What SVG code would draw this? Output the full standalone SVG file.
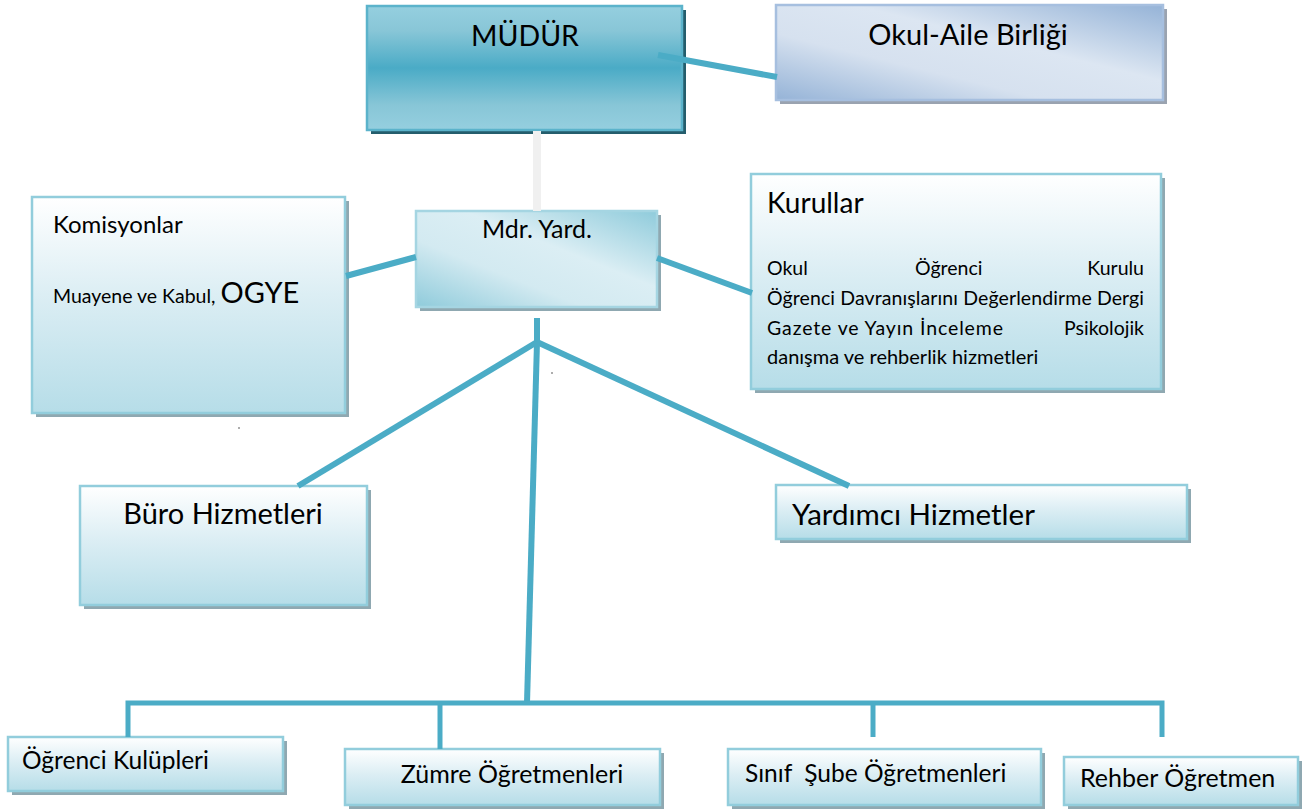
<svg xmlns="http://www.w3.org/2000/svg" width="1304" height="812" viewBox="0 0 1304 812">
<defs>
  <linearGradient id="gPale" x1="0" y1="0" x2="0" y2="1">
    <stop offset="0" stop-color="#ffffff"/>
    <stop offset="0.45" stop-color="#dceef4"/>
    <stop offset="1" stop-color="#b6dde8"/>
  </linearGradient>
  <linearGradient id="gMudur" x1="0" y1="0" x2="0" y2="1">
    <stop offset="0" stop-color="#95cfdf"/>
    <stop offset="0.2" stop-color="#88c6d7"/>
    <stop offset="0.5" stop-color="#4aabc6"/>
    <stop offset="0.8" stop-color="#88c6d7"/>
    <stop offset="1" stop-color="#95cfdf"/>
  </linearGradient>
  <linearGradient id="gYard" x1="0" y1="1" x2="1" y2="0">
    <stop offset="0" stop-color="#8fcbdb"/>
    <stop offset="0.35" stop-color="#d3eaf1"/>
    <stop offset="0.6" stop-color="#dbeef4"/>
    <stop offset="1" stop-color="#8fcbdb"/>
  </linearGradient>
  <linearGradient id="gAile" x1="0" y1="1" x2="1" y2="0">
    <stop offset="0" stop-color="#95b3d7"/>
    <stop offset="0.35" stop-color="#d6e1ef"/>
    <stop offset="0.6" stop-color="#dce6f2"/>
    <stop offset="1" stop-color="#95b3d7"/>
  </linearGradient>
</defs>
<style>
  .shadow { fill: #8fa8b1; }
  .shadowDark { fill: #245d6c; }
  .shadowBlue { fill: #9aa3b0; }
  .box { fill: url(#gPale); stroke: #92cddc; stroke-width: 2.5; }
  .mudur { fill: url(#gMudur); stroke: #5bb3cb; stroke-width: 2.5; }
  .yard { fill: url(#gYard); stroke: #a5d5e2; stroke-width: 2.5; }
  .aile { fill: url(#gAile); stroke: #a6bfdf; stroke-width: 2.5; }
  text { font-family: Lato, "Liberation Sans", sans-serif; fill: #000; }
  .conn { stroke: #4bacc6; stroke-width: 6; fill: none; stroke-linecap: butt; }
  .thin { stroke: #4bacc6; stroke-width: 5; fill: none; }
</style>

<g id="node-mudur">
  <rect class="shadowDark" x="371" y="10" width="315" height="124"/>
  <rect class="mudur" x="367" y="6" width="315" height="124"/>
  <text x="525" y="46" font-size="28.5" text-anchor="middle">MÜDÜR</text>
</g>

<g id="node-okul-aile">
  <rect class="shadowBlue" x="780" y="9" width="387" height="95"/>
  <rect class="aile" x="776" y="5" width="387" height="95"/>
  <text x="968" y="45" font-size="29" text-anchor="middle">Okul-Aile Birliği</text>
</g>

<g id="node-mdr-yard">
  <rect class="shadow" x="420" y="215" width="241" height="96"/>
  <rect class="yard" x="416" y="211" width="241" height="96"/>
  <text x="537" y="238" font-size="25" text-anchor="middle">Mdr. Yard.</text>
</g>

<g id="node-komisyonlar">
  <rect class="shadow" x="36" y="201" width="313" height="216"/>
  <rect class="box" x="32" y="197" width="313" height="216"/>
  <text x="53" y="233" font-size="24">Komisyonlar</text>
  <text x="53" y="303" font-size="19.5">Muayene ve Kabul, <tspan font-size="29">OGYE</tspan></text>
</g>

<g id="node-kurullar">
  <rect class="shadow" x="755" y="178" width="410" height="215"/>
  <rect class="box" x="751" y="174" width="410" height="215"/>
  <text x="767" y="213" font-size="28">Kurullar</text>
  <text x="767" y="275" font-size="19.5">Okul</text>
  <text x="915" y="275" font-size="19.5">Öğrenci</text>
  <text x="1144" y="275" font-size="19.5" text-anchor="end">Kurulu</text>
  <text x="767" y="305" font-size="19.5" textLength="377" lengthAdjust="spacing">Öğrenci Davranışlarını Değerlendirme  Dergi</text>
  <text x="767" y="335" font-size="19.5" textLength="236" lengthAdjust="spacing">Gazete ve Yayın İnceleme</text>
  <text x="1144" y="335" font-size="19.5" text-anchor="end">Psikolojik</text>
  <text x="767" y="364" font-size="20">danışma ve rehberlik hizmetleri</text>
</g>

<g id="node-buro">
  <rect class="shadow" x="84" y="490" width="287" height="119"/>
  <rect class="box" x="80" y="486" width="287" height="119"/>
  <text x="223" y="524" font-size="29" text-anchor="middle">Büro Hizmetleri</text>
</g>

<g id="node-yardimci">
  <rect class="shadow" x="780" y="489" width="411" height="54"/>
  <rect class="box" x="776" y="485" width="411" height="54"/>
  <text x="792" y="525" font-size="29.5">Yardımcı Hizmetler</text>
</g>

<g id="node-ogrenci-kulupleri">
  <rect class="shadow" x="12" y="741" width="275" height="54"/>
  <rect class="box" x="8" y="737" width="275" height="54"/>
  <text x="22" y="769" font-size="24.5">Öğrenci Kulüpleri</text>
</g>

<g id="node-zumre">
  <rect class="shadow" x="349" y="753" width="315" height="56"/>
  <rect class="box" x="345" y="749" width="315" height="56"/>
  <text x="512" y="783" font-size="25" text-anchor="middle">Zümre Öğretmenleri</text>
</g>

<g id="node-sinif-sube">
  <rect class="shadow" x="732" y="753" width="313" height="56"/>
  <rect class="box" x="728" y="749" width="313" height="56"/>
  <text x="745" y="782" font-size="24.5" xml:space="preserve">Sınıf  Şube Öğretmenleri</text>
</g>

<g id="node-rehber">
  <rect class="shadow" x="1068" y="761" width="234" height="48"/>
  <rect class="box" x="1064" y="757" width="234" height="48"/>
  <text x="1080" y="787" font-size="25">Rehber Öğretmen</text>
</g>

<g id="connectors">
  <line x1="537" y1="131" x2="537" y2="211" stroke="#f0f0f0" stroke-width="8"/>
  <line class="conn" x1="658" y1="55" x2="777" y2="77"/>
  <line class="conn" x1="346" y1="276" x2="416" y2="257"/>
  <line class="conn" x1="657" y1="258" x2="752" y2="293"/>
  <line class="conn" x1="537" y1="318" x2="537" y2="343"/>
  <line class="conn" x1="537" y1="342" x2="298" y2="486"/>
  <line class="conn" x1="537" y1="342" x2="849" y2="486"/>
  <line class="conn" x1="537" y1="342" x2="527" y2="703"/>
  <polyline class="thin" points="128,737 128,703 1162,703 1162,737"/>
  <line class="thin" x1="440" y1="703" x2="440" y2="749"/>
  <line class="thin" x1="873" y1="703" x2="873" y2="737"/>
  <circle cx="552" cy="373" r="0.8" fill="#444"/>
  <circle cx="239" cy="428" r="0.8" fill="#444"/>
</g>
</svg>
